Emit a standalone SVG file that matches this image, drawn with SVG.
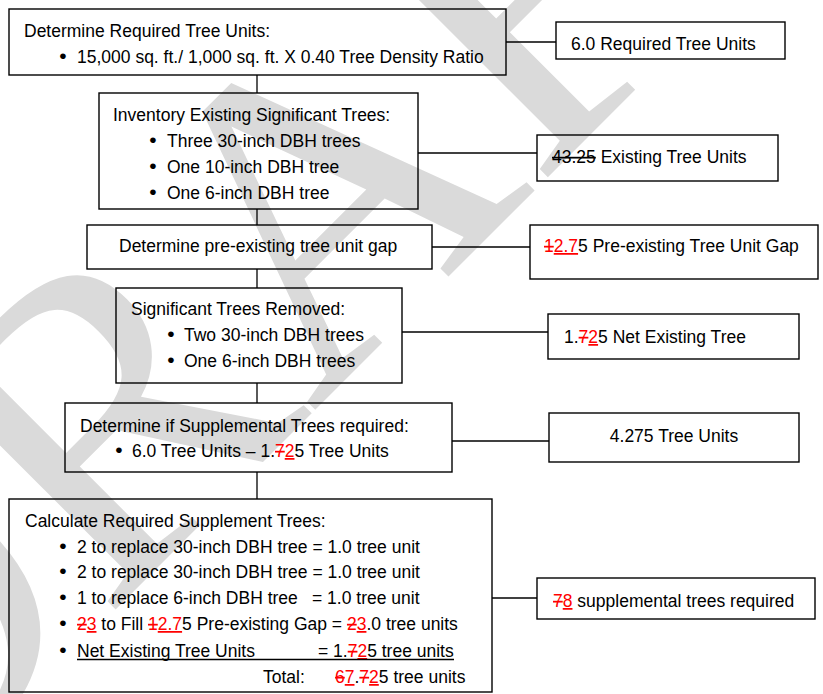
<svg xmlns="http://www.w3.org/2000/svg" width="823" height="694" viewBox="0 0 823 694">
<style>
.box{fill:none;stroke:#000;stroke-width:1.4}
.ln{stroke:#000;stroke-width:1.3;fill:none}
text{font-family:"Liberation Sans",Arial,sans-serif;font-size:17.5px;fill:#000}
.b{text-anchor:middle;font-size:21px}
.del{fill:#ff0000;text-decoration:line-through}
.ins{fill:#ff0000;text-decoration:underline}
.strk{text-decoration:line-through}
.wm{font-family:"Liberation Serif","Times New Roman",serif;font-size:440px;fill:#dadada}
</style>
<rect width="823" height="694" fill="#fff"/>
<g id="watermark">
<text class="wm" transform="translate(-120,845) rotate(-45)">DRAFT</text>
</g>
<g id="connectors">
<line class="ln" x1="257" y1="75" x2="257" y2="93"/>
<line class="ln" x1="257" y1="209" x2="257" y2="225"/>
<line class="ln" x1="257" y1="269" x2="257" y2="288"/>
<line class="ln" x1="257" y1="383" x2="257" y2="403"/>
<line class="ln" x1="257" y1="472" x2="257" y2="499"/>
<line class="ln" x1="506" y1="42" x2="556" y2="42"/>
<line class="ln" x1="418" y1="153" x2="537" y2="153"/>
<line class="ln" x1="432" y1="247" x2="530" y2="247"/>
<line class="ln" x1="402" y1="332" x2="548" y2="332"/>
<line class="ln" x1="452" y1="441" x2="549" y2="441"/>
<line class="ln" x1="492" y1="598" x2="537" y2="598"/>
</g>
<g id="n1">
<rect class="box" x="9" y="9" width="497" height="66"/>
<text x="24" y="37">Determine Required Tree Units:</text>
<text class="b" x="63" y="63">•</text>
<text x="77" y="63">15,000 sq. ft./ 1,000 sq. ft. X 0.40 Tree Density Ratio</text>
</g>
<g id="n2">
<rect class="box" x="99" y="93" width="319" height="116"/>
<text x="113" y="121">Inventory Existing Significant Trees:</text>
<text class="b" x="153" y="147">•</text>
<text x="167" y="147">Three 30-inch DBH trees</text>
<text class="b" x="153" y="173">•</text>
<text x="167" y="173">One 10-inch DBH tree</text>
<text class="b" x="153" y="199">•</text>
<text x="167" y="199">One 6-inch DBH tree</text>
</g>
<g id="n3">
<rect class="box" x="87" y="225" width="345" height="44"/>
<text x="119" y="252">Determine pre-existing tree unit gap</text>
</g>
<g id="n4">
<rect class="box" x="116" y="288" width="286" height="95"/>
<text x="131" y="315">Significant Trees Removed:</text>
<text class="b" x="171" y="341">•</text>
<text x="184" y="341">Two 30-inch DBH trees</text>
<text class="b" x="171" y="367">•</text>
<text x="184" y="367">One 6-inch DBH trees</text>
</g>
<g id="n5">
<rect class="box" x="65" y="403" width="387" height="69"/>
<text x="80" y="432">Determine if Supplemental Trees required:</text>
<text class="b" x="119" y="457">•</text>
<text x="132" y="457">6.0 Tree Units – 1.<tspan class="del">7</tspan><tspan class="ins">2</tspan>5 Tree Units</text>
</g>
<g id="n6">
<rect class="box" x="9" y="499" width="483" height="193"/>
<text x="25" y="527">Calculate Required Supplement Trees:</text>
<text class="b" x="63" y="553">•</text>
<text x="77" y="553">2 to replace 30-inch DBH tree = 1.0 tree unit</text>
<text class="b" x="63" y="578">•</text>
<text x="77" y="578">2 to replace 30-inch DBH tree = 1.0 tree unit</text>
<text class="b" x="63" y="604">•</text>
<text x="77" y="604">1 to replace 6-inch DBH tree<tspan x="312">= 1.0 tree unit</tspan></text>
<text class="b" x="63" y="630">•</text>
<text x="77" y="630"><tspan class="del">2</tspan><tspan class="ins">3</tspan> to Fill <tspan class="del">1</tspan><tspan class="ins">2.7</tspan>5 Pre-existing Gap = <tspan class="del">2</tspan><tspan class="ins">3</tspan>.0 tree units</text>
<text class="b" x="63" y="657">•</text>
<text x="77" y="657">Net Existing Tree Units<tspan x="318">= 1.</tspan><tspan class="del">7</tspan><tspan class="ins">2</tspan>5 tree units</text>
<line class="ln" x1="77" y1="659.5" x2="454" y2="659.5" stroke-width="1.2"/>
<text x="263" y="683">Total:</text>
<text x="335" y="683"><tspan class="del">6</tspan><tspan class="ins">7</tspan>.<tspan class="del">7</tspan><tspan class="ins">2</tspan>5 tree units</text>
</g>
<g id="r1">
<rect class="box" x="556" y="22" width="229" height="37"/>
<text x="571" y="50">6.0 Required Tree Units</text>
</g>
<g id="r2">
<rect class="box" x="537" y="135" width="241" height="46"/>
<text x="552" y="163"><tspan class="strk">43.25</tspan> Existing Tree Units</text>
</g>
<g id="r3">
<rect class="box" x="530" y="225" width="288" height="54"/>
<text x="544" y="252"><tspan class="del">1</tspan><tspan class="ins">2.7</tspan>5 Pre-existing Tree Unit Gap</text>
</g>
<g id="r4">
<rect class="box" x="548" y="314" width="251" height="45"/>
<text x="564" y="343">1.<tspan class="del">7</tspan><tspan class="ins">2</tspan>5 Net Existing Tree</text>
</g>
<g id="r5">
<rect class="box" x="549" y="413" width="250" height="49"/>
<text x="674" y="442" style="text-anchor:middle">4.275 Tree Units</text>
</g>
<g id="r6">
<rect class="box" x="537" y="578" width="278" height="41"/>
<text x="553" y="607"><tspan class="del">7</tspan><tspan class="ins">8</tspan> supplemental trees required</text>
</g>
</svg>
